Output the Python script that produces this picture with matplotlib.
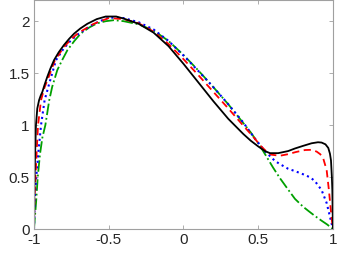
import matplotlib
matplotlib.use("Agg")
import matplotlib.pyplot as plt

plt.rcParams['font.family'] = ['Liberation Sans', 'DejaVu Sans']
plt.rcParams['axes.unicode_minus'] = False

# Series: black solid
x_black = [-1, -0.998, -0.996, -0.992, -0.987, -0.978, -0.966, -0.955, -0.944, -0.93, -0.911, -0.89,
           -0.866, -0.835, -0.80, -0.765, -0.732, -0.69, -0.643, -0.58, -0.52, -0.45, -0.4, -0.3,
           -0.2, -0.1, 0, 0.1, 0.2, 0.3, 0.4, 0.45, 0.5, 0.545, 0.579, 0.634, 0.7, 0.746, 0.8,
           0.857, 0.9, 0.924, 0.95, 0.969, 0.98, 0.987, 0.993, 0.996, 1.0]
y_black = [0, 0.3, 0.5, 0.75, 1.0, 1.16, 1.24, 1.285, 1.32, 1.385, 1.465, 1.545,
           1.625, 1.70, 1.77, 1.83, 1.88, 1.93, 1.975, 2.02, 2.045, 2.045, 2.025, 1.975,
           1.89, 1.76, 1.59, 1.41, 1.23, 1.06, 0.915, 0.85, 0.795, 0.75, 0.73, 0.73, 0.75, 0.775, 0.80,
           0.825, 0.835, 0.832, 0.815, 0.78, 0.725, 0.66, 0.5, 0.375, 0]

# Series: red dashed
x_red = [-1, -0.997, -0.99, -0.982, -0.973, -0.953, -0.93, -0.9, -0.86, -0.8, -0.75, -0.7, -0.6, -0.5,
         -0.4, -0.3, -0.2, -0.1, 0, 0.1, 0.2, 0.3, 0.4, 0.465, 0.523, 0.56, 0.59, 0.645, 0.7,
         0.75, 0.813, 0.857, 0.891, 0.915, 0.935, 0.958, 0.973, 0.99, 1.0]
y_red = [0, 0.3, 0.5, 0.75, 1.0, 1.24, 1.36, 1.47, 1.625, 1.75, 1.83, 1.89, 1.975, 2.03,
         2.02, 1.98, 1.90, 1.78, 1.635, 1.48, 1.32, 1.16, 0.995, 0.89, 0.79, 0.74, 0.715, 0.705, 0.72,
         0.74, 0.76, 0.762, 0.745, 0.72, 0.68, 0.567, 0.375, 0.12, 0]

# Series: blue dotted
x_blue = [-1, -0.995, -0.985, -0.97, -0.953, -0.929, -0.9, -0.853, -0.8, -0.75, -0.7, -0.6, -0.5,
          -0.4, -0.3, -0.2, -0.1, 0, 0.1, 0.2, 0.3, 0.4, 0.478, 0.545, 0.612, 0.645, 0.7, 0.75,
          0.813, 0.85, 0.88, 0.924, 0.958, 0.98, 1.0]
y_blue = [0, 0.3, 0.5, 0.75, 1.0, 1.24, 1.39, 1.625, 1.74, 1.82, 1.88, 1.975, 2.035,
          2.03, 1.99, 1.92, 1.81, 1.67, 1.52, 1.365, 1.20, 1.025, 0.87, 0.75, 0.655, 0.625, 0.58, 0.555,
          0.52, 0.495, 0.46, 0.375, 0.25, 0.12, 0]

# Series: green dash-dot
x_green = [-1, -0.992, -0.985, -0.975, -0.96, -0.944, -0.924, -0.898, -0.878, -0.844, -0.81, -0.777,
           -0.73, -0.688, -0.63, -0.577, -0.52, -0.465, -0.4, -0.3, -0.2, -0.1, 0, 0.1, 0.2, 0.3,
           0.4, 0.45, 0.512, 0.55, 0.6, 0.645, 0.7, 0.746, 0.8, 0.835, 0.88, 0.924, 0.96, 1.0]
y_green = [0, 0.15, 0.28, 0.5, 0.72, 0.88, 1.0, 1.24, 1.37, 1.53, 1.63, 1.72,
           1.81, 1.88, 1.94, 1.98, 2.0, 2.01, 2.0, 1.97, 1.91, 1.81, 1.675, 1.525, 1.365, 1.20,
           1.02, 0.93, 0.80, 0.71, 0.59, 0.49, 0.38, 0.29, 0.215, 0.175, 0.125, 0.08, 0.045, 0]

xticks = [-1, -0.5, 0, 0.5, 1]
xticklabels = ['-1', '-0.5', '0', '0.5', '1']
yticks = [0, 0.5, 1, 1.5, 2]
yticklabels = ['0', '0.5', '1', '1.5', '2']

fig = plt.figure(figsize=(3.38, 2.54), dpi=100)
ax = fig.add_axes([0.1006, 0.0984, 0.8844, 0.9])

lw = 1.3
ax.plot(x_green, y_green, color='#00a000', linestyle='-.', linewidth=lw)
ax.plot(x_blue, y_blue, color='#0000ff', linestyle=':', linewidth=lw + 0.2)
ax.plot(x_red, y_red, color='#ff0000', linestyle=(0, (4, 2.5)), linewidth=lw)
ax.plot(x_black, y_black, color='black', linestyle='-', linewidth=lw)

ax.set_xlim(-1, 1)
ax.set_ylim(0, 2.2)
ax.set_xticks(xticks)
ax.set_xticklabels(xticklabels)
ax.set_yticks(yticks)
ax.set_yticklabels(yticklabels)

for s in ax.spines.values():
    s.set_color('#a0a0a0')
    s.set_linewidth(0.8)
ax.tick_params(direction='in', length=3, width=0.6, colors='#a0a0a0',
               top=True, right=True, labelsize=11, labelcolor='#262626', pad=3)

fig.savefig('out.png', dpi=100)
